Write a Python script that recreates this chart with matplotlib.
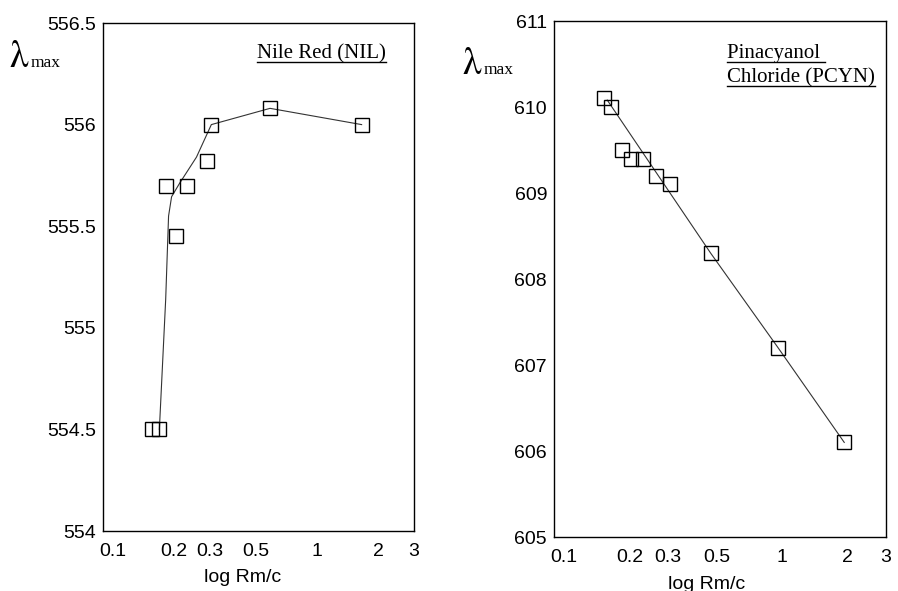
import matplotlib
matplotlib.use("Agg")
import matplotlib.pyplot as plt
from matplotlib.lines import Line2D

# ---- data ----
nil_x = [0.155, 0.169, 0.183, 0.230, 0.205, 0.290, 0.304, 0.59, 1.66]
nil_y = [554.5, 554.5, 555.7, 555.7, 555.45, 555.82, 556.0, 556.08, 556.0]
nil_fit_x = [0.169, 0.1815, 0.1875, 0.194, 0.212, 0.257, 0.304, 0.59, 1.66]
nil_fit_y = [554.5, 555.14, 555.55, 555.645, 555.71, 555.84, 556.0, 556.08, 556.0]

pcyn_x = [0.152, 0.165, 0.184, 0.204, 0.231, 0.265, 0.306, 0.471, 0.96, 1.93]
pcyn_y = [610.1, 610.0, 609.5, 609.4, 609.4, 609.2, 609.1, 608.3, 607.2, 606.1]
pcyn_fit_x = [0.158, 0.471, 0.96, 1.93]
pcyn_fit_y = [610.08, 608.3, 607.2, 606.1]

x_ticks = [0.1, 0.2, 0.3, 0.5, 1, 2, 3]
x_tick_labels = ["0.1", "0.2", "0.3", "0.5", "1", "2", "3"]
nil_yticks = [554, 554.5, 555, 555.5, 556, 556.5]
nil_yticklabels = ["554", "554.5", "555", "555.5", "556", "556.5"]
pcyn_yticks = [605, 606, 607, 608, 609, 610, 611]
pcyn_yticklabels = ["605", "606", "607", "608", "609", "610", "611"]

W, H = 898, 591
fig = plt.figure(figsize=(W / 100, H / 100), dpi=100)
sans = "Liberation Sans"
serif = "Liberation Serif"


def make_axes(px_left, px_top, px_right, px_bottom):
    return fig.add_axes([px_left / W, 1 - px_bottom / H,
                         (px_right - px_left) / W, (px_bottom - px_top) / H])


def style(ax, xlim, ylim, yticks, yticklabels, xlabel_frac):
    ax.set_xscale("log")
    ax.set_xlim(*xlim)
    ax.set_ylim(*ylim)
    ax.set_xticks(x_ticks)
    ax.set_xticklabels(x_tick_labels, fontfamily=sans, fontsize=14)
    ax.minorticks_off()
    ax.set_yticks(yticks)
    ax.set_yticklabels(yticklabels, fontfamily=sans, fontsize=14)
    ax.tick_params(axis="both", length=0)
    ax.tick_params(axis="x", pad=9)
    ax.tick_params(axis="y", pad=5)
    for s in ax.spines.values():
        s.set_linewidth(1.0)
        s.set_color("black")
    ax.set_xlabel("log Rm/c", fontfamily=sans, fontsize=14, labelpad=2)
    ax.xaxis.set_label_coords(xlabel_frac, -0.075)


# Left: Nile Red
ax1 = make_axes(103, 23, 414, 531)
ax1.plot(nil_fit_x, nil_fit_y, color="#333333", lw=0.8, zorder=2)
ax1.plot(nil_x, nil_y, linestyle="none", marker="s", markersize=9.5,
         markerfacecolor="none", markeredgecolor="black", markeredgewidth=1.0, zorder=3)
style(ax1, (0.0894, 3.0), (554, 556.5), nil_yticks, nil_yticklabels, 0.45)

# Right: Pinacyanol chloride
ax2 = make_axes(554, 21, 886, 537)
ax2.plot(pcyn_fit_x, pcyn_fit_y, color="#333333", lw=0.8, zorder=2)
ax2.plot(pcyn_x, pcyn_y, linestyle="none", marker="s", markersize=9.5,
         markerfacecolor="none", markeredgecolor="black", markeredgewidth=1.0, zorder=3)
style(ax2, (0.090, 3.0), (605, 611), pcyn_yticks, pcyn_yticklabels, 0.46)

# lambda_max labels (figure pixel coords)
def lam(px_x, px_base):
    fig.text(px_x / W, 1 - px_base / H, "λ", fontfamily=["STIXGeneral", serif],
             fontsize=27, ha="left", va="baseline")
    fig.text((px_x + 21) / W, 1 - px_base / H, "max", fontfamily=serif, fontsize=12.5,
             ha="left", va="baseline")

lam(10, 67)
lam(463, 74)

# Titles with underline
titles = []
titles.append(fig.text(386 / W, 1 - 58 / H, "Nile Red (NIL)", fontfamily=serif,
                       fontsize=15, ha="right", va="baseline"))
titles.append(fig.text(727 / W, 1 - 58 / H, "Pinacyanol ", fontfamily=serif,
                       fontsize=15, ha="left", va="baseline"))
titles.append(fig.text(727 / W, 1 - 82 / H, "Chloride (PCYN)", fontfamily=serif,
                       fontsize=15, ha="left", va="baseline"))

fig.canvas.draw()
renderer = fig.canvas.get_renderer()
for t in titles:
    bb = t.get_window_extent(renderer)
    base_y = t.get_position()[1] * H
    y = base_y - 4
    fig.add_artist(Line2D([bb.x0 / W, bb.x1 / W], [y / H, y / H],
                          transform=fig.transFigure, color="black", lw=1.0))

fig.savefig("out.png", dpi=100)
